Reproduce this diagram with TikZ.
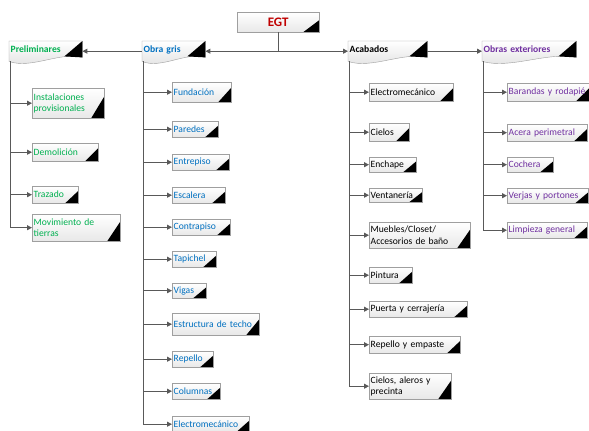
\documentclass[tikz,border=0pt]{standalone}
\usepackage{fontspec}
\setmainfont{Carlito}
\usetikzlibrary{arrows.meta,calc,backgrounds,shadows}
\definecolor{verde}{RGB}{0,176,80}
\definecolor{azul}{RGB}{0,112,192}
\definecolor{morado}{RGB}{112,48,160}
\definecolor{rojo}{RGB}{192,0,0}
\definecolor{linea}{RGB}{89,89,89}
\tikzset{
  esquina/.style 2 args={path picture={\fill[black] let \p1=(path picture bounding box.north east),
      \p2=(path picture bounding box.south east) in
      (\p2) -- ++(-#1,0) -- (\x2,{\y2+#2*(\y1-\y2)}) -- cycle;}},
  tarea/.style={draw=gray!75, top color=white, bottom color=gray!18, anchor=north west,
    inner xsep=1.5pt, inner ysep=0pt, align=left, font=\fontsize{9.6}{11.5}\selectfont,
    drop shadow={shadow xshift=1.2pt, shadow yshift=-1.2pt, fill=black, opacity=0.2},
    esquina={13pt}{0.72}},
  raiz/.style={tarea, align=center, text=rojo, font=\bfseries\fontsize{13}{15}\selectfont,
    esquina={16pt}{0.6}},
  grupo/.style={anchor=north west, inner xsep=1.5pt, inner ysep=0pt, minimum height=20pt,
    text height=7pt, text depth=5pt,
    align=left, font=\bfseries\fontsize{9.6}{11.5}\selectfont},
  flecha/.style={draw=linea, line width=0.9pt, -{Triangle[length=5pt,width=5pt]}}
}
\begin{document}
\begin{tikzpicture}[x=1pt,y=-1pt]
  \useasboundingbox (0,0) rectangle (589,431);

  \node[raiz, text width=79pt, minimum height=20pt] (egt) at (237,12) {EGT};

  \node[grupo, text width=70pt, text=verde] (pre) at (9,41) {Preliminares};
  \node[grupo, text width=60pt, text=azul] (og) at (142,41) {Obra gris};
  \node[grupo, text width=76pt, text=black] (acab) at (348,41) {Acabados};
  \node[grupo, text width=91pt, text=morado] (oext) at (482,41) {Obras exteriores};

  \begin{scope}[on background layer]
    \foreach \h in {pre,og,acab,oext} {
      \shade[top color=white, bottom color=gray!25, draw=gray!75]
        (\h.north west) -- (\h.north east) -- ($(\h.south east)+(0,-4)$)
        .. controls ($(\h.south east)!0.3!(\h.south west)+(0,-10)$)
        and ($(\h.south east)!0.7!(\h.south west)+(0,8)$) .. (\h.south west) -- cycle;
      \fill[black] (\h.north east) -- ($(\h.south east)+(0,-4)$)
        -- ($(\h.south east)+(-18,-5)$) -- cycle;
    }
  \end{scope}

  \begin{scope}[text=verde]
    \node[tarea, text width=69pt, minimum height=30pt] (inst) at (32,88) {Instalaciones\\provisionales};
    \node[tarea, text width=63pt, minimum height=18pt] (demo) at (32,143) {Demolición};
    \node[tarea, text width=43pt, minimum height=17pt] (traz) at (32,186) {Trazado};
    \node[tarea, text width=85pt, minimum height=27pt] (movi) at (32,214) {Movimiento de\\tierras};
  \end{scope}

  \begin{scope}[text=azul]
    \node[tarea, text width=56pt, minimum height=20pt] (fund) at (172,82) {Fundación};
    \node[tarea, text width=43pt, minimum height=16pt] (pare) at (172,121) {Paredes};
    \node[tarea, text width=54pt, minimum height=16pt] (entr) at (172,154) {Entrepiso};
    \node[tarea, text width=50pt, minimum height=16pt] (esca) at (172,187) {Escalera};
    \node[tarea, text width=55pt, minimum height=16pt] (cont) at (172,219) {Contrapiso};
    \node[tarea, text width=41pt, minimum height=16pt] (tapi) at (172,251) {Tapichel};
    \node[tarea, text width=31pt, minimum height=15pt] (viga) at (172,283) {Vigas};
    \node[tarea, text width=84pt, minimum height=22pt] (estr) at (172,313) {Estructura de techo};
    \node[tarea, text width=38pt, minimum height=16pt] (repe) at (172,351) {Repello};
    \node[tarea, text width=45pt, minimum height=16pt] (colu) at (172,383) {Columnas};
    \node[tarea, text width=74pt, minimum height=16pt] (elec) at (172,416) {Electromecánico};
  \end{scope}

  \node[tarea, text width=81pt, minimum height=18pt] (aele) at (369,83) {Electromecánico};
  \node[tarea, text width=37pt, minimum height=18pt] (acie) at (369,123) {Cielos};
  \node[tarea, text width=44pt, minimum height=15pt] (aenc) at (369,157) {Enchape};
  \node[tarea, text width=50pt, minimum height=14pt] (aven) at (369,188) {Ventanería};
  \node[tarea, text width=98pt, minimum height=26pt] (amue) at (369,222) {Muebles/Closet/\\Accesorios de baño};
  \node[tarea, text width=40pt, minimum height=16pt] (apin) at (369,267) {Pintura};
  \node[tarea, text width=95pt, minimum height=16pt] (apue) at (369,301) {Puerta y cerrajería};
  \node[tarea, text width=88pt, minimum height=17pt] (arep) at (369,336) {Repello y empaste};
  \node[tarea, text width=79pt, minimum height=26pt] (acal) at (369,373) {Cielos, aleros y\\precinta};

  \begin{scope}[text=morado]
    \node[tarea, text width=79pt, minimum height=18pt] (bara) at (507,83) {Barandas y rodapié};
    \node[tarea, text width=77pt, minimum height=17pt] (acer) at (507,124) {Acera perimetral};
    \node[tarea, text width=43pt, minimum height=15pt] (coch) at (507,157) {Cochera};
    \node[tarea, text width=78pt, minimum height=15pt] (verj) at (507,188) {Verjas y portones};
    \node[tarea, text width=77pt, minimum height=16pt] (limp) at (507,222) {Limpieza general};
  \end{scope}

  \begin{scope}[flecha]
    \draw (egt.south) |- (og.east);
    \draw (egt.south) |- (acab.west);
    \draw (og.west) -- (pre.east);
    \draw (acab.east) -- (oext.west);
    \foreach \c in {inst,demo,traz,movi}
      \draw ([xshift=1.5pt]pre.south west) |- (\c.west);
    \foreach \c in {fund,pare,entr,esca,cont,tapi,viga,estr,repe,colu,elec}
      \draw ([xshift=1.5pt]og.south west) |- (\c.west);
    \foreach \c in {aele,acie,aenc,aven,amue,apin,apue,arep,acal}
      \draw ([xshift=1.5pt]acab.south west) |- (\c.west);
    \foreach \c in {bara,acer,coch,verj,limp}
      \draw ([xshift=1.5pt]oext.south west) |- (\c.west);
  \end{scope}
\end{tikzpicture}
\end{document}
